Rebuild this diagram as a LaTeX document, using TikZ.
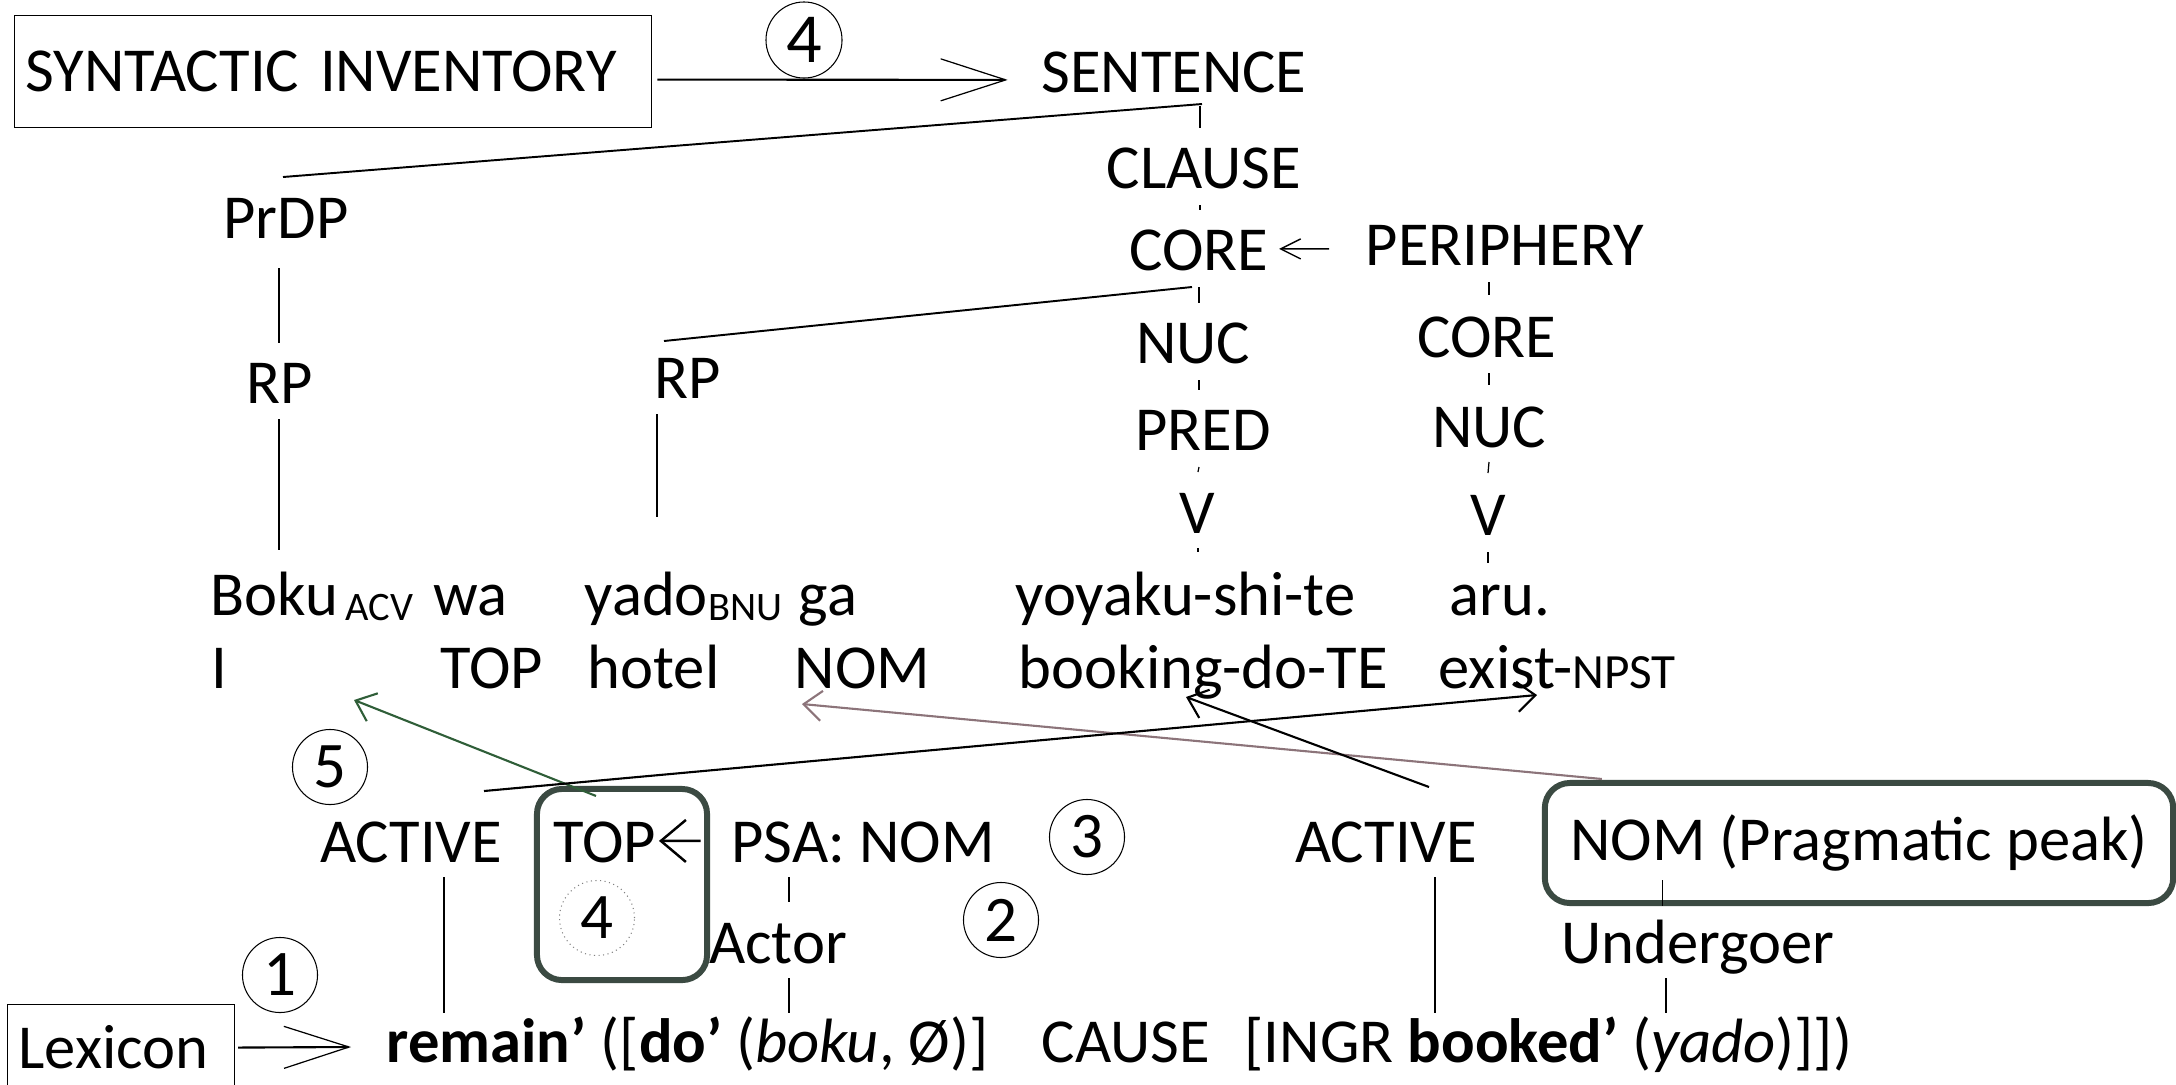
\documentclass[tikz,border=0pt]{standalone}
\usepackage{fontspec}
\setmainfont{Carlito}
\usetikzlibrary{arrows.meta, calc, positioning}
\definecolor{boxDark}{RGB}{59,74,66}
\definecolor{linkGreen}{RGB}{47,94,56}
\definecolor{linkMauve}{RGB}{140,116,122}
\newcommand{\lblsize}{\fontsize{17.8}{21}\selectfont}
\newcommand{\subsize}{\fontsize{11.5}{13}\selectfont}
\tikzstyle{lbl} = [inner sep=0pt, anchor=base, font=\lblsize]
\tikzstyle{gloss} = [inner sep=0pt, anchor=base west, font=\lblsize]
\tikzstyle{subLbl} = [inner sep=0pt, anchor=base west, font=\subsize]
\tikzstyle{plainBox} = [rectangle, draw=black, line width=0.3pt, inner xsep=0.11cm, inner ysep=0pt, align=left, font=\lblsize]
\tikzstyle{peakBox} = [rectangle, rounded corners=0.25cm, draw=boxDark, line width=1.7pt, inner sep=0pt, font=\lblsize]
\tikzstyle{stepNo} = [circle, draw=black, line width=0.3pt, minimum size=0.75cm, inner sep=0pt, font=\fontsize{18.5}{20}\selectfont]
\tikzstyle{tick} = [line width=0.35pt]
\tikzstyle{branch} = [line width=0.55pt]
\tikzstyle{arrowInv} = [line width=0.6pt, -{Straight Barb[length=0.65cm, width=0.42cm, line width=0.35pt]}]
\tikzstyle{arrowSmall} = [line width=0.4pt, -{Straight Barb[length=0.2cm, width=0.2cm]}]
\tikzstyle{arrowTop} = [line width=0.7pt, -{Straight Barb[length=0.25cm, width=0.42cm]}]
\tikzstyle{arrowLink} = [line width=0.6pt, -{Straight Barb[length=0.18cm, width=0.3cm]}]

\begin{document}
\begin{tikzpicture}[x=0.01cm, y=-0.01cm]
    \useasboundingbox (0,0) rectangle (2176,1084);

    % syntactic side
    \node (synInv) [plainBox, anchor=north west, text width=6.15cm, minimum height=1.12cm] at (14,15) {SYNTACTIC INVENTORY};
    \node (sentence) [lbl] at (1174,92) {SENTENCE};
    \draw [arrowInv] ($(synInv.east)+(5,8)$) -- ($(sentence.west)+(-33,8)$);
    \node (stepTop) [stepNo, minimum size=0.76cm, font=\fontsize{20}{22}\selectfont] at (804,40) {4};

    \node (clause) [lbl] at (1204,188) {CLAUSE};
    \node (core) [lbl] at (1199,270) {CORE};
    \node (periphery) [lbl] at (1505,265) {PERIPHERY};
    \node (prdp) [lbl] at (286,238) {PrDP};
    \node (rpA) [lbl] at (280,403) {RP};
    \node (rpB) [lbl] at (688,398) {RP};
    \node (nucA) [lbl] at (1193,363) {NUC};
    \node (pred) [lbl] at (1203,450) {PRED};
    \node (vA) [lbl] at (1197,533) {V};
    \node (coreB) [lbl] at (1487,357) {CORE};
    \node (nucB) [lbl] at (1489,447) {NUC};
    \node (vB) [lbl] at (1488,535) {V};

    \draw [arrowSmall] ($(periphery.west)+(-36,4)$) -- ($(core.east)+(10,-1)$);

    % sentence
    \node (boku) [gloss] at (210,615) {Boku};
    \node (acv) [subLbl] at (345,620) {ACV};
    \node (wa) [gloss] at (433,615) {wa};
    \node (yado) [gloss] at (584,615) {yado};
    \node (bnu) [subLbl] at (708,620) {BNU};
    \node (ga) [gloss] at (798,615) {ga};
    \node (yoyaku) [gloss] at (1015,615) {yoyaku-shi-te};
    \node (aru) [gloss] at (1449,615) {aru.};

    \node (glossI) [gloss] at (211,688) {I};
    \node (glossTop) [gloss] at (440,688) {TOP};
    \node (glossHotel) [gloss] at (587,688) {hotel};
    \node (glossNom) [gloss] at (794,688) {NOM};
    \node (glossBook) [gloss] at (1018,688) {booking-do-TE};
    \node (glossExist) [gloss] at (1438,688) {exist-{\fontsize{14}{16}\selectfont NPST}};

    % tree lines
    \draw [branch] ($(sentence.base)+(28,12)$) -- ($(prdp.base)+(-3,-61)$);
    \draw [branch] ($(core.base)+(-7,17)$) -- ($(rpB.base)+(-24,-57)$);
    \foreach \a/\ax/\ay/\b/\bx/\by in {
        sentence.base/26/14/clause.base/-4/-60,
        clause.base/-4/17/core.base/1/-60,
        core.base/0/17/nucA.base/6/-60,
        nucA.base/6/17/pred.base/-4/-60,
        pred.base/-4/17/vA.base/1/-61,
        vA.base/1/15/yoyaku.base west/183/-63,
        periphery.base/-16/17/coreB.base/2/-62,
        coreB.base/2/16/nucB.base/0/-62,
        nucB.base/0/15/vB.base/0/-62,
        vB.base/0/17/aru.base west/39/-52,
        prdp.base/-7/30/rpA.base/-1/-60,
        rpA.base/-1/16/boku.base west/69/-65,
        rpB.base/-31/16/yado.base west/73/-98} {
        \draw [tick] ($(\a)+(\ax,\ay)$) -- ($(\b)+(\bx,\by)$);
    }

    % semantic side
    \node (topBox) [peakBox, minimum width=1.70cm, minimum height=1.91cm] at (622,884.5) {};
    \node (activeA) [lbl] at (411,862) {ACTIVE};
    \node (topLbl) [lbl] at (605,862) {TOP};
    \node (psa) [lbl] at (863,862) {PSA: NOM};
    \node (activeB) [lbl] at (1386,862) {ACTIVE};
    \node (nomBox) [peakBox, minimum width=6.28cm, minimum height=1.20cm] at (1859,843) {NOM (Pragmatic peak)};
    \node (actor) [lbl] at (778,963) {Actor};
    \node (undergoer) [lbl] at (1698,963) {Undergoer};

    \draw [arrowTop] ($(psa.west)+(-30,-1)$) -- ($(topLbl.east)+(2,-1)$);

    \node (lexicon) [plainBox, anchor=north west, text width=2.05cm, minimum height=0.86cm] at (7,1004) {Lexicon};
    \node (remain) [gloss] at (386,1062) {\textbf{remain’} ([\textbf{do’} (\textit{boku}, Ø)]};
    \node (cause) [gloss] at (1041,1062) {CAUSE};
    \node (ingr) [gloss] at (1244,1062) {[INGR \textbf{booked’} (\textit{yado})]])};
    \draw [arrowInv] ($(lexicon.east)+(3,0)$) -- ($(remain.base west)+(-35,-15)$);

    \draw [tick] ($(activeA.base)+(33,15)$) -- ($(remain.base west)+(58,-49)$);
    \draw [tick] ($(psa.base)+(-74,15)$) -- ($(actor.base)+(11,-61)$);
    \draw [tick] ($(actor.base)+(11,15)$) -- ($(remain.base west)+(403,-49)$);
    \draw [tick] ($(activeB.base)+(49,15)$) -- ($(ingr.base west)+(191,-49)$);
    \draw [tick] ($(nomBox.south west)+(121,-26)$) -- ($(nomBox.south west)+(121,0)$);
    \draw [tick] ($(undergoer.base)+(-32,15)$) -- ($(ingr.base west)+(422,-49)$);

    % steps
    \foreach \num/\px/\py in {1/280/975, 2/1001/920, 3/1087/837, 5/330/767} {
        \node (step\num) [stepNo] at (\px,\py) {\num};
    }
    \node (stepBox) [stepNo, draw=gray, densely dotted] at (597,918) {4};

    % links between the two sides
    \draw [arrowLink, draw=linkGreen] ($(topBox.north)+(-26,10)$) -- ($(glossI.base west)+(143,12)$);
    \draw [arrowLink, draw=linkMauve] ($(nomBox.north west)+(60,-1)$) -- ($(glossNom.base west)+(8,16)$);
    \draw [arrowLink] ($(activeA.base)+(73,-71)$) -- ($(glossExist.base west)+(99,7)$);
    \draw [arrowLink] ($(activeB.base)+(43,-75)$) -- ($(glossBook.base west)+(168,9)$);

\end{tikzpicture}
\end{document}
